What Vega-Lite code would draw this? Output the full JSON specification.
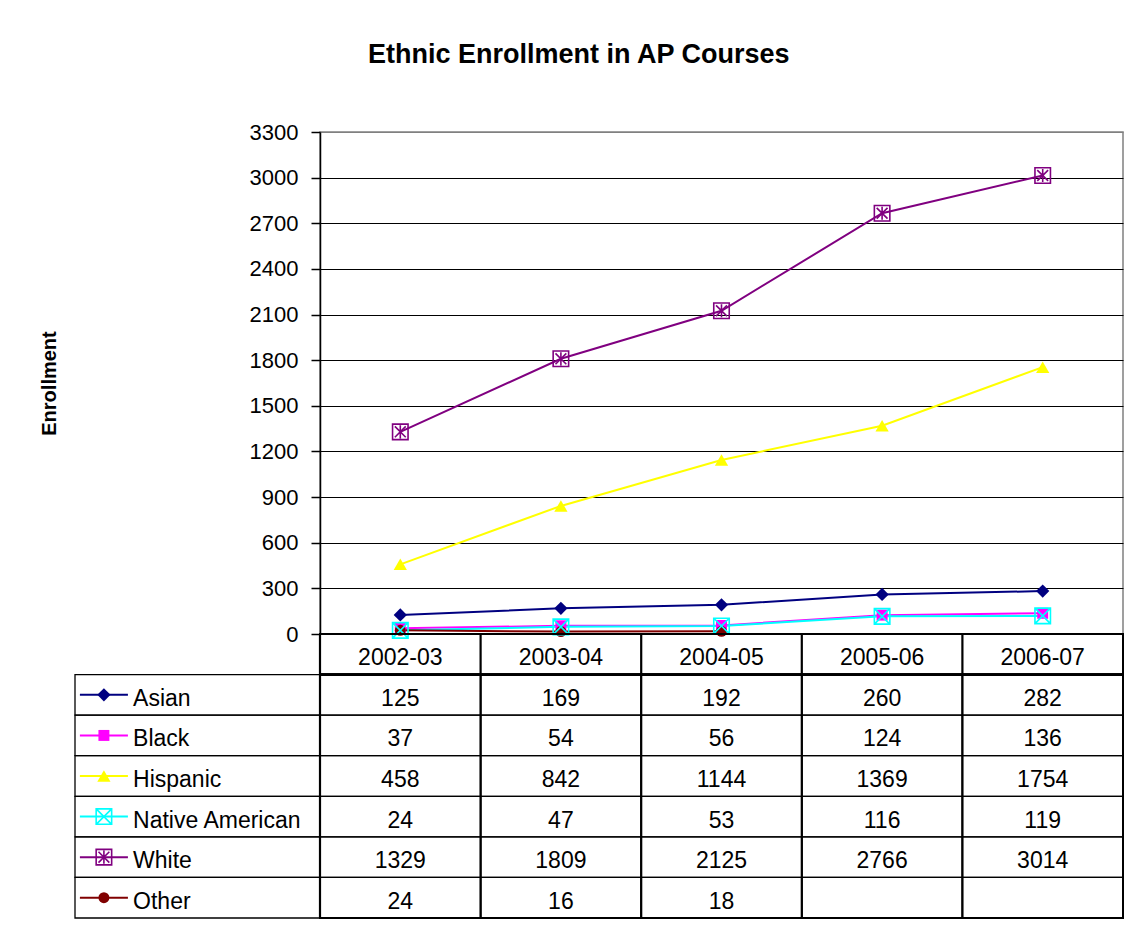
{
  "$schema": "https://vega.github.io/schema/vega-lite/v6.json",
  "padding": {"left": 38, "top": 41, "right": 10, "bottom": 10},
  "background": "white",
  "title": {"text": "Ethnic Enrollment in AP Courses", "fontSize": 27, "font": "Liberation Sans", "fontWeight": "bold", "color": "black", "anchor": "middle", "offset": 51, "dx": -3},
  "config": {"view": {"stroke": null}, "font": "Liberation Sans", "text": {"font": "Liberation Sans"}},
  "datasets": {
    "enroll": [
      {"series": "Asian", "year": "2002-03", "value": 125},
      {"series": "Asian", "year": "2003-04", "value": 169},
      {"series": "Asian", "year": "2004-05", "value": 192},
      {"series": "Asian", "year": "2005-06", "value": 260},
      {"series": "Asian", "year": "2006-07", "value": 282},
      {"series": "Black", "year": "2002-03", "value": 37},
      {"series": "Black", "year": "2003-04", "value": 54},
      {"series": "Black", "year": "2004-05", "value": 56},
      {"series": "Black", "year": "2005-06", "value": 124},
      {"series": "Black", "year": "2006-07", "value": 136},
      {"series": "Hispanic", "year": "2002-03", "value": 458},
      {"series": "Hispanic", "year": "2003-04", "value": 842},
      {"series": "Hispanic", "year": "2004-05", "value": 1144},
      {"series": "Hispanic", "year": "2005-06", "value": 1369},
      {"series": "Hispanic", "year": "2006-07", "value": 1754},
      {"series": "Native American", "year": "2002-03", "value": 24},
      {"series": "Native American", "year": "2003-04", "value": 47},
      {"series": "Native American", "year": "2004-05", "value": 53},
      {"series": "Native American", "year": "2005-06", "value": 116},
      {"series": "Native American", "year": "2006-07", "value": 119},
      {"series": "White", "year": "2002-03", "value": 1329},
      {"series": "White", "year": "2003-04", "value": 1809},
      {"series": "White", "year": "2004-05", "value": 2125},
      {"series": "White", "year": "2005-06", "value": 2766},
      {"series": "White", "year": "2006-07", "value": 3014},
      {"series": "Other", "year": "2002-03", "value": 24},
      {"series": "Other", "year": "2003-04", "value": 16},
      {"series": "Other", "year": "2004-05", "value": 18},
      {"series": "Other", "year": "2005-06", "value": null},
      {"series": "Other", "year": "2006-07", "value": null}
    ],
    "years": [{"year": "2002-03"}, {"year": "2003-04"}, {"year": "2004-05"}, {"year": "2005-06"}, {"year": "2006-07"}],
    "series": [{"series": "Asian"}, {"series": "Black"}, {"series": "Hispanic"}, {"series": "Native American"}, {"series": "White"}, {"series": "Other"}]
  },
  "columns": 2,
  "spacing": 0,
  "bounds": "flush",
  "align": "each",
  "concat": [
    {
      "width": 245, "height": 502,
      "data": {"values": [{}]},
      "mark": {"type": "text"},
      "encoding": {"text": {"value": ""}}
    },
    {
      "width": 803, "height": 502,
      "view": {"stroke": "#808080", "strokeWidth": 1.5},
      "data": {"name": "enroll"},
      "transform": [{"filter": "datum.value != null"}],
      "encoding": {
        "x": {"field": "year", "type": "ordinal", "scale": {"type": "point", "padding": 0.5, "domain": ["2002-03", "2003-04", "2004-05", "2005-06", "2006-07"]}, "axis": null},
        "y": {"field": "value", "type": "quantitative", "scale": {"domain": [0, 3300], "nice": false},
          "axis": {"values": [0, 300, 600, 900, 1200, 1500, 1800, 2100, 2400, 2700, 3000, 3300], "format": "d", "title": "Enrollment", "titleFontSize": 20, "titleFontWeight": "bold", "titleFont": "Liberation Sans", "titleColor": "black", "titlePadding": 190, "labelFontSize": 22, "labelColor": "black", "labelFont": "Liberation Sans", "labelPadding": 13, "tickSize": 9, "tickColor": "black", "tickWidth": 1.5, "domainColor": "black", "domainWidth": 1.5, "grid": true, "gridColor": {"condition": {"test": "datum.value === 3300", "value": "#808080"}, "value": "black"}, "gridWidth": 1.2, "gridOpacity": 1, "labelFlush": false, "labelOverlap": false}},
        "color": {"field": "series", "type": "nominal", "scale": {"domain": ["Asian", "Black", "Hispanic", "Native American", "White", "Other"], "range": ["#000080", "#FF00FF", "#FFFF00", "#00FFFF", "#800080", "#800000"]}, "legend": null},
        "shape": {"field": "series", "type": "nominal", "scale": {"domain": ["Asian", "Black", "Hispanic", "Native American", "White", "Other"], "range": ["diamond", "square", "triangle-up", "M-1,-1L1,-1L1,1L-1,1Z M-1,-1L1,1 M1,-1L-1,1", "M-1,-1L1,-1L1,1L-1,1Z M-0.7,-0.7L0.7,0.7 M0.7,-0.7L-0.7,0.7 M0,-0.85L0,0.85", "circle"]}, "legend": null}
      },
      "layer": [
        {"mark": {"type": "line", "strokeWidth": 2}, "encoding": {"shape": null}},
        {"transform": [{"filter": {"field": "series", "oneOf": ["Asian", "Hispanic"]}}],
         "mark": {"type": "point", "filled": true, "size": 175, "opacity": 1}},
        {"transform": [{"filter": {"field": "series", "oneOf": ["Black", "Other"]}}],
         "mark": {"type": "point", "filled": true, "size": 120, "opacity": 1}},
        {"transform": [{"filter": {"field": "series", "oneOf": ["Native American", "White"]}}],
         "mark": {"type": "point", "filled": false, "size": 240, "strokeWidth": 1.6, "opacity": 1}}
      ]
    },
    {
      "width": 245, "height": 284,
      "data": {"name": "series"},
      "encoding": {
        "y": {"field": "series", "type": "nominal", "scale": {"domain": ["hdr", "Asian", "Black", "Hispanic", "Native American", "White", "Other"], "paddingInner": 0, "paddingOuter": 0}, "axis": null},
        "color": {"field": "series", "type": "nominal", "scale": {"domain": ["Asian", "Black", "Hispanic", "Native American", "White", "Other"], "range": ["#000080", "#FF00FF", "#FFFF00", "#00FFFF", "#800080", "#800000"]}, "legend": null}
      },
      "layer": [
        {"mark": {"type": "rect", "filled": false, "stroke": "black", "strokeWidth": 1.3}, "encoding": {"color": null}},
        {"mark": {"type": "rule", "strokeWidth": 2},
         "encoding": {
           "x": {"datum": 2, "type": "quantitative", "scale": {"domain": [0, 100]}, "axis": null},
           "x2": {"datum": 21.6}}},
        {"transform": [{"filter": {"field": "series", "oneOf": ["Asian", "Hispanic"]}}],
         "mark": {"type": "point", "filled": true, "size": 175, "opacity": 1},
         "encoding": {
           "x": {"datum": 11.8, "type": "quantitative", "scale": {"domain": [0, 100]}, "axis": null},
           "shape": {"field": "series", "type": "nominal", "scale": {"domain": ["Asian", "Black", "Hispanic", "Native American", "White", "Other"], "range": ["diamond", "square", "triangle-up", "M-1,-1L1,-1L1,1L-1,1Z M-1,-1L1,1 M1,-1L-1,1", "M-1,-1L1,-1L1,1L-1,1Z M-0.7,-0.7L0.7,0.7 M0.7,-0.7L-0.7,0.7 M0,-0.85L0,0.85", "circle"]}, "legend": null}}},
        {"transform": [{"filter": {"field": "series", "oneOf": ["Black", "Other"]}}],
         "mark": {"type": "point", "filled": true, "size": 120, "opacity": 1},
         "encoding": {
           "x": {"datum": 11.8, "type": "quantitative", "scale": {"domain": [0, 100]}, "axis": null},
           "shape": {"field": "series", "type": "nominal", "scale": {"domain": ["Asian", "Black", "Hispanic", "Native American", "White", "Other"], "range": ["diamond", "square", "triangle-up", "M-1,-1L1,-1L1,1L-1,1Z M-1,-1L1,1 M1,-1L-1,1", "M-1,-1L1,-1L1,1L-1,1Z M-0.7,-0.7L0.7,0.7 M0.7,-0.7L-0.7,0.7 M0,-0.85L0,0.85", "circle"]}, "legend": null}}},
        {"transform": [{"filter": {"field": "series", "oneOf": ["Native American", "White"]}}],
         "mark": {"type": "point", "filled": false, "size": 240, "strokeWidth": 1.6, "opacity": 1},
         "encoding": {
           "x": {"datum": 11.8, "type": "quantitative", "scale": {"domain": [0, 100]}, "axis": null},
           "shape": {"field": "series", "type": "nominal", "scale": {"domain": ["Asian", "Black", "Hispanic", "Native American", "White", "Other"], "range": ["diamond", "square", "triangle-up", "M-1,-1L1,-1L1,1L-1,1Z M-1,-1L1,1 M1,-1L-1,1", "M-1,-1L1,-1L1,1L-1,1Z M-0.7,-0.7L0.7,0.7 M0.7,-0.7L-0.7,0.7 M0,-0.85L0,0.85", "circle"]}, "legend": null}}},
        {"mark": {"type": "text", "align": "left", "baseline": "middle", "fontSize": 23, "color": "black", "dy": 4},
         "encoding": {
           "x": {"datum": 23.7, "type": "quantitative", "scale": {"domain": [0, 100]}, "axis": null},
           "color": null,
           "text": {"field": "series"}}}
      ]
    },
    {
      "width": 803, "height": 284,
      "view": {"stroke": "black", "strokeWidth": 2},
      "layer": [
        {"data": {"name": "enroll"},
         "mark": {"type": "rect", "filled": false, "color": "black", "strokeWidth": 1.3},
         "encoding": {
           "x": {"field": "year", "type": "nominal", "scale": {"domain": ["2002-03", "2003-04", "2004-05", "2005-06", "2006-07"], "paddingInner": 0, "paddingOuter": 0}, "axis": null},
           "y": {"field": "series", "type": "nominal", "scale": {"domain": ["hdr", "Asian", "Black", "Hispanic", "Native American", "White", "Other"], "paddingInner": 0, "paddingOuter": 0}, "axis": null}}},
        {"data": {"name": "years"},
         "mark": {"type": "rule", "color": "black", "strokeWidth": 2.2},
         "encoding": {
           "x": {"field": "year", "type": "nominal", "bandPosition": 0, "scale": {"domain": ["2002-03", "2003-04", "2004-05", "2005-06", "2006-07"], "paddingInner": 0, "paddingOuter": 0}, "axis": null}}},
        {"data": {"name": "years"},
         "mark": {"type": "rule", "color": "black", "strokeWidth": 2.2},
         "encoding": {
           "y": {"datum": "Asian", "type": "nominal", "bandPosition": 0, "scale": {"domain": ["hdr", "Asian", "Black", "Hispanic", "Native American", "White", "Other"], "paddingInner": 0, "paddingOuter": 0}, "axis": null}}},
        {"data": {"name": "years"},
         "mark": {"type": "text", "align": "center", "baseline": "middle", "fontSize": 23, "color": "black", "dy": 4},
         "encoding": {
           "x": {"field": "year", "type": "nominal", "scale": {"domain": ["2002-03", "2003-04", "2004-05", "2005-06", "2006-07"], "paddingInner": 0, "paddingOuter": 0}, "axis": null},
           "y": {"datum": "hdr", "type": "nominal", "scale": {"domain": ["hdr", "Asian", "Black", "Hispanic", "Native American", "White", "Other"], "paddingInner": 0, "paddingOuter": 0}, "axis": null},
           "text": {"field": "year"}}},
        {"data": {"name": "enroll"},
         "transform": [{"filter": "datum.value != null"}],
         "mark": {"type": "text", "align": "center", "baseline": "middle", "fontSize": 23, "color": "black", "dy": 4},
         "encoding": {
           "x": {"field": "year", "type": "nominal", "scale": {"domain": ["2002-03", "2003-04", "2004-05", "2005-06", "2006-07"], "paddingInner": 0, "paddingOuter": 0}, "axis": null},
           "y": {"field": "series", "type": "nominal", "scale": {"domain": ["hdr", "Asian", "Black", "Hispanic", "Native American", "White", "Other"], "paddingInner": 0, "paddingOuter": 0}, "axis": null},
           "text": {"field": "value", "type": "quantitative", "format": "d"}}}
      ]
    }
  ]
}
